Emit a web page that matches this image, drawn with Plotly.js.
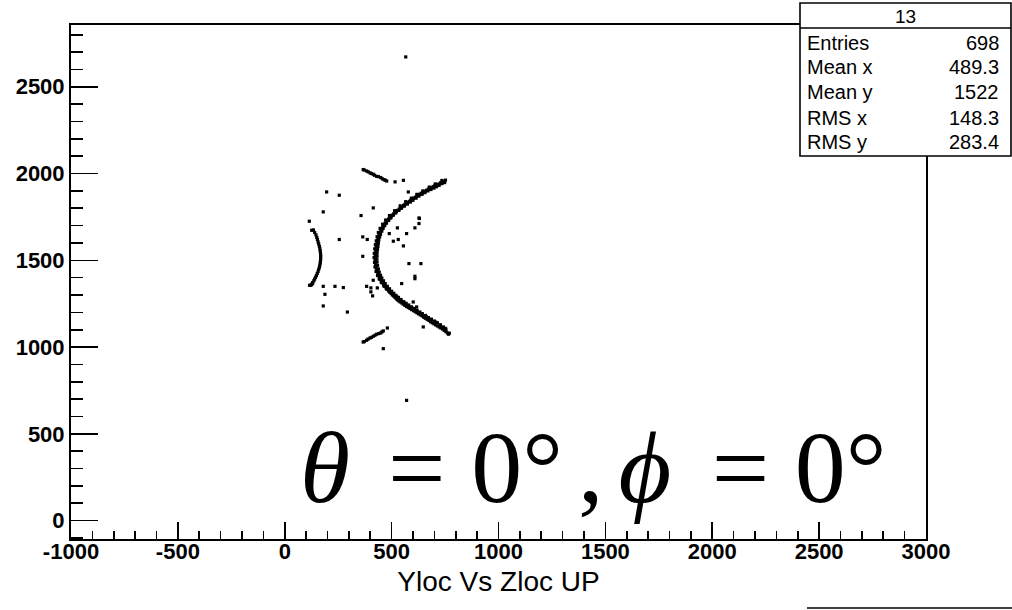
<!DOCTYPE html>
<html>
<head>
<meta charset="utf-8">
<script src="https://cdn.plot.ly/plotly-3.0.1.min.js"></script>
<style>html,body{margin:0;padding:0;background:#fff;}#chart{width:1012px;height:610px;}</style>
</head>
<body>
<div id="chart"></div>
<script>
// ---- data (Yloc on x, Zloc on y) ----
// main arc, upper branch (rows of the thick band)
const arcUpX = [752,745,738,730,724,716,708,700,694,686,680,672,664,658,650,644,638,630,624,616,610,602,596,590,584,576,570,562,556,548,542,536,528,522,516,510,504,498,492,486,480,476,470,466,462,458,454,450,447,444,441,438,436,434,432,430,428,427,426,425,424,424,423,
  748,736,722,710,698,684,670,656,642,628,614,600,588,574,560,546,534,520,508,496,486,476,468,460,454,448,444,440,438,436,434,432,432,431,
  735,704,676,646,618,592,566,540,514,490,472,458,446,438,432,428,424,421,419,418];
const arcUpY = [1962,1955,1952,1948,1940,1938,1932,1928,1924,1918,1912,1910,1904,1898,1894,1888,1886,1880,1874,1868,1862,1858,1850,1846,1840,1834,1828,1822,1816,1808,1802,1796,1788,1782,1774,1768,1760,1752,1746,1738,1730,1722,1714,1706,1698,1690,1680,1672,1662,1652,1642,1632,1622,1612,1600,1590,1578,1566,1554,1542,1530,1518,1506,
  1948,1942,1932,1924,1916,1908,1900,1890,1880,1870,1858,1846,1836,1824,1812,1800,1788,1774,1760,1744,1730,1714,1700,1684,1668,1650,1634,1616,1598,1580,1562,1544,1526,1508,
  1960,1940,1922,1900,1880,1858,1838,1814,1786,1758,1732,1708,1684,1660,1636,1612,1590,1566,1540,1516];
// main arc, lower branch
const arcLoX = [424,425,426,428,430,433,436,440,444,448,452,458,463,468,474,480,486,492,498,504,510,516,522,528,534,540,548,554,562,570,578,586,594,602,610,618,626,634,642,650,658,666,674,682,690,698,706,714,722,730,738,746,754,760,766,
  432,434,438,442,448,454,462,470,480,490,500,510,520,532,544,556,568,580,592,606,618,632,644,658,672,686,700,714,728,742,754,
  420,422,427,434,442,452,464,478,492,508,524,542,560,578,598,618,640,662,684,706,728,750,770];
const arcLoY = [1494,1482,1470,1458,1446,1434,1424,1412,1400,1390,1380,1370,1360,1350,1340,1332,1324,1316,1308,1300,1294,1286,1278,1272,1266,1260,1254,1248,1240,1234,1228,1222,1216,1210,1204,1198,1192,1186,1180,1172,1166,1160,1154,1146,1140,1134,1128,1122,1116,1110,1104,1096,1090,1082,1074,
  1490,1470,1450,1432,1414,1398,1382,1366,1350,1336,1322,1310,1298,1286,1274,1262,1252,1242,1232,1222,1212,1202,1192,1182,1170,1160,1150,1140,1128,1116,1104,
  1488,1462,1436,1412,1392,1372,1352,1334,1320,1302,1290,1270,1254,1240,1224,1208,1192,1176,1160,1144,1126,1108,1080];
// small left arc
const leftArcX = [126,134,140,146,150,153,156,159,162,164,166,167,168,168,168,167,166,164,162,159,156,152,148,144,140,136,131,126,122,116,130];
const leftArcY = [1673,1675,1660,1646,1632,1620,1606,1594,1580,1568,1556,1544,1532,1520,1508,1496,1484,1472,1460,1448,1436,1424,1412,1402,1392,1382,1372,1362,1356,1356,1366];
// short segment top-left
const topSegX = [367,372,383,390,399,405,414,420,430,438,449,456,464,470,477,516,555];
const topSegY = [2023,2020,2015,2010,2004,2000,1996,1990,1984,1982,1977,1970,1965,1962,1957,1952,1961];
// short segment bottom-left
const botSegX = [367,372,383,390,399,405,414,422,430,440,449,455,461,480,461];
const botSegY = [1029,1032,1039,1046,1052,1056,1062,1068,1074,1078,1081,1088,1093,1110,991];
// isolated hits
const strayX = [566,570,115,196,255,180,357,414,255,365,386,365,578,628,628,609,527,570,531,508,555,581,637,609,609,414,180,235,274,188,383,403,433,403,411,547,601,617,180,293,648,630,489];
const strayY = [2672,693,1725,1894,1875,1779,1758,1802,1620,1635,1620,1523,1894,1744,1712,1687,1687,1654,1620,1610,1583,1481,1481,1408,1394,1385,1350,1350,1343,1304,1350,1341,1341,1318,1295,1366,1260,1231,1237,1202,1116,1741,1654];

const xTickVals = [-1000,-500,0,500,1000,1500,2000,2500,3000];
const xTickText = ["-1000","-500","0","500","1000","1500","2000","2500","3000"];
const yTickVals = [0,500,1000,1500,2000,2500];
const yTickText = ["0","500","1000","1500","2000","2500"];

const statsTitle = "13";
const statsLabels = ["Entries","Mean x","Mean y","RMS x","RMS y"];
const statsValues = ["698","489.3","1522","148.3","283.4"];
const xTitle = "Yloc Vs Zloc UP";
const sp = s => "<span style='font-size:" + s + "px'> </span>";
const formulaText = "<i>θ</i> " + sp(50) + "= 0°" + sp(60) + "," + sp(60) + "<i>ϕ</i> " + sp(60) + "= 0°";

// ---- build ----
const allX = [].concat(arcUpX, arcLoX, leftArcX, topSegX, botSegX, strayX);
const allY = [].concat(arcUpY, arcLoY, leftArcY, topSegY, botSegY, strayY);

const trace = {
  type: 'scatter', mode: 'markers', x: allX, y: allY,
  marker: {symbol: 'square', size: 3.2, color: '#000', line: {width: 0}},
  hoverinfo: 'skip', showlegend: false
};

const L = 71, R = 86, T = 25, B = 71, W = 1012, H = 610;
const pw = W - L - R, ph = H - T - B;
const px = v => (v - L) / pw;
const py = v => (H - B - v) / ph;

const shapes = [
  {type: 'rect', xref: 'paper', yref: 'paper', x0: px(800), x1: px(1011), y0: py(156), y1: py(3),
   line: {color: '#000', width: 1.6}, fillcolor: '#fff', layer: 'above'},
  {type: 'line', xref: 'paper', yref: 'paper', x0: px(800), x1: px(1011), y0: py(28), y1: py(28),
   line: {color: '#000', width: 1.6}, layer: 'above'},
  {type: 'line', xref: 'paper', yref: 'paper', x0: px(807), x1: px(1012), y0: py(608), y1: py(608),
   line: {color: '#000', width: 1.6}, layer: 'above'}
];

const statFont = {family: 'Liberation Sans, Arial, sans-serif', size: 20, color: '#000'};
const annotations = [
  {xref: 'paper', yref: 'paper', x: px(905.5), y: py(16), text: statsTitle, showarrow: false,
   xanchor: 'center', yanchor: 'middle', font: {family: statFont.family, size: 19, color: '#000'}}
];
const rowY = [43, 67, 92, 118, 142];
statsLabels.forEach((lab, i) => {
  annotations.push({xref: 'paper', yref: 'paper', x: px(805), y: py(rowY[i]), text: lab, showarrow: false,
    xanchor: 'left', yanchor: 'middle', font: statFont});
  annotations.push({xref: 'paper', yref: 'paper', x: px(1001), y: py(rowY[i]), text: statsValues[i], showarrow: false,
    xanchor: 'right', yanchor: 'middle', font: statFont});
});
annotations.push({xref: 'paper', yref: 'paper', x: px(298), y: py(467), text: formulaText, showarrow: false,
  xanchor: 'left', yanchor: 'middle', font: {family: 'Liberation Serif, DejaVu Serif, serif', size: 102, color: '#000'}});

const tickFont = {family: 'Liberation Sans, Arial, sans-serif', size: 22, color: '#000', weight: 'bold'};
const layout = {
  width: W, height: H,
  margin: {l: L, r: R, t: T, b: B, pad: 0},
  paper_bgcolor: '#fff', plot_bgcolor: '#fff',
  showlegend: false,
  xaxis: {
    range: [-1000, 3000], autorange: false, tickmode: 'array', tickvals: xTickVals, ticktext: xTickText,
    ticks: 'inside', ticklen: 17, tickwidth: 1.6, tickcolor: '#000', ticklabelstandoff: -8,
    minor: {tickmode: 'linear', tick0: -1000, dtick: 100, ticks: 'inside', ticklen: 8, tickwidth: 1.6, tickcolor: '#000', showgrid: false},
    showline: true, linecolor: '#000', linewidth: 2, mirror: true,
    showgrid: false, zeroline: false, tickfont: tickFont,
    title: {text: xTitle, font: {family: 'Liberation Sans, Arial, sans-serif', size: 28, color: '#000'}, standoff: 8},
    automargin: false
  },
  yaxis: {
    range: [-106, 2856], autorange: false, tickmode: 'array', tickvals: yTickVals, ticktext: yTickText,
    ticks: 'inside', ticklen: 27, tickwidth: 1.6, tickcolor: '#000',
    minor: {tickmode: 'linear', tick0: 0, dtick: 100, ticks: 'inside', ticklen: 12, tickwidth: 1.6, tickcolor: '#000', showgrid: false},
    showline: true, linecolor: '#000', linewidth: 2, mirror: true,
    showgrid: false, zeroline: false, tickfont: tickFont,
    automargin: false
  },
  shapes: shapes,
  annotations: annotations
};

Plotly.newPlot('chart', [trace], layout, {displayModeBar: false, staticPlot: true});
</script>
</body>
</html>
